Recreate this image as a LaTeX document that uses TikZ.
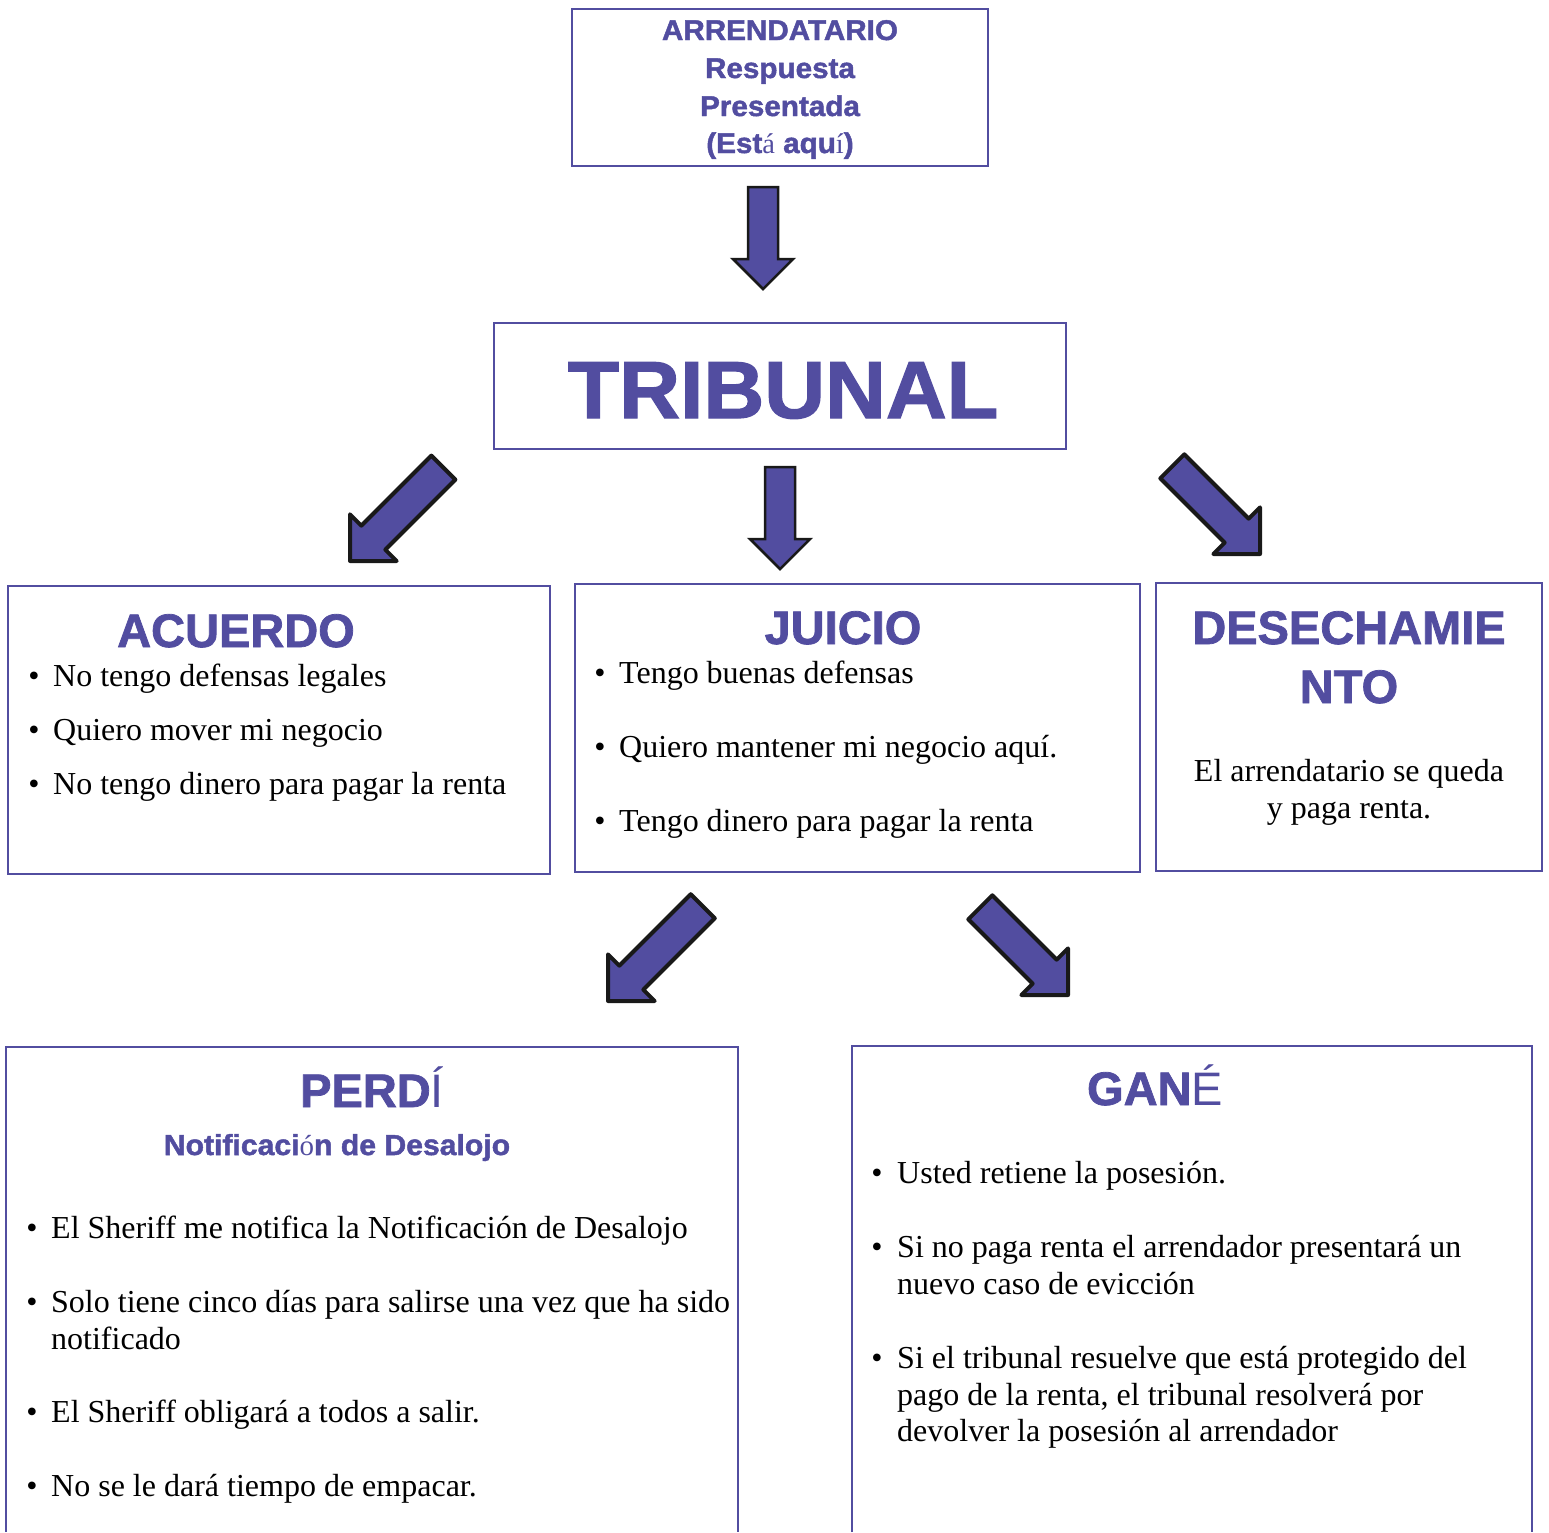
\documentclass[tikz,border=0pt]{standalone}
\usepackage{fontspec}
\setmainfont{Liberation Serif}
\newfontfamily\hsans{Liberation Sans}
\newfontfamily\hblack{Liberation Sans Bold}[FakeBold=1.6]
\newfontfamily\hblackw{Liberation Sans Bold}[FakeBold=1.6,FakeStretch=1.04]
\definecolor{pur}{RGB}{82,77,160}
\newcommand\blockarrow[7]{% style, tip x, tip y, angle, length, shaft hw, head hw
  \begin{scope}[shift={(#2,#3)},rotate=#4]
    \filldraw[#1] (0,0) -- (-#7,#7) -- (-#7,#6) -- (-#5,#6) -- (-#5,-#6) -- (-#7,-#6) -- (-#7,-#7) -- cycle;
  \end{scope}}
\tikzset{
  box/.style={draw=pur, line width=1.8pt, inner sep=0pt},
  arw/.style={fill=pur, draw=black!90, line width=4pt, line join=round},
  arwthin/.style={fill=pur, draw=black!90, line width=2.5pt, line join=miter},
  body/.style={inner sep=0pt, anchor=base west, font=\fontsize{32}{37}\selectfont},
  bul/.style={inner sep=0pt, anchor=base, font=\fontsize{32}{37}\selectfont},
  ctr/.style={inner sep=0pt, anchor=base, font=\fontsize{32}{37}\selectfont},
  head/.style={inner sep=0pt, anchor=base, text=pur, font=\hblack\fontsize{47}{50}\selectfont},
  toptxt/.style={inner sep=0pt, anchor=base, text=pur, font=\hblackw\fontsize{28.5}{30}\selectfont},
}
\newcommand\srf[1]{{\rmfamily #1}}
\newcommand\lsn[1]{{\hsans #1}}
\begin{document}
\begin{tikzpicture}[x=1pt,y=-1pt]
\useasboundingbox (0,0) rectangle (1549,1532);

% boxes
\node[box, minimum width=416pt, minimum height=157pt] (top) at (780,87.5) {};
\node[box, minimum width=572pt, minimum height=126pt] (trib) at (780,386) {};
\node[box, minimum width=542pt, minimum height=288pt] (acu) at (279,730) {};
\node[box, minimum width=565pt, minimum height=288pt] (jui) at (857.5,728) {};
\node[box, minimum width=386pt, minimum height=288pt] (des) at (1349,727) {};
\draw[box] (6,1532) |- (738,1047) -- (738,1532);
\draw[box] (852,1532) |- (1532,1046) -- (1532,1532);

% top box text
\node[toptxt] (t1) at (780,40) {ARRENDATARIO};
\node[toptxt] (t2) at (780,78) {Respuesta};
\node[toptxt] (t3) at (780,116) {Presentada};
\node[toptxt] (t4) at (780,153) {(Est\srf{á} aqu\srf{í})};

% tribunal
\node[inner sep=0pt, anchor=base, text=pur, font=\hblackw\fontsize{81}{84}\selectfont] (tt) at (783,418) {TRIBUNAL};

% arrows
\blockarrow{arwthin}{763}{289}{-90}{102}{15}{30}
\blockarrow{arwthin}{780}{569}{-90}{102}{15}{30}
\blockarrow{arw}{350}{561}{-135}{132}{17}{33}
\blockarrow{arw}{1260}{554}{-45}{124}{17}{33}
\blockarrow{arw}{608}{1001}{-135}{134}{17}{33}
\blockarrow{arw}{1068}{995}{-45}{124}{17}{33}

% ACUERDO
\node[head] (ah) at (236,647) {ACUERDO};
\node[bul] (ab1) at (34,686) {•};
\node[body] (a1) at (53,686) {No tengo defensas legales};
\node[bul] (ab2) at (34,740) {•};
\node[body] (a2) at (53,740) {Quiero mover mi negocio};
\node[bul] (ab3) at (34,794) {•};
\node[body] (a3) at (53,794) {No tengo dinero para pagar la renta};

% JUICIO
\node[head] (jh) at (843,644) {JUICIO};
\node[bul] (jb1) at (600,683) {•};
\node[body] (j1) at (619,683) {Tengo buenas defensas};
\node[bul] (jb2) at (600,757) {•};
\node[body] (j2) at (619,757) {Quiero mantener mi negocio aquí.};
\node[bul] (jb3) at (600,831) {•};
\node[body] (j3) at (619,831) {Tengo dinero para pagar la renta};

% DESECHAMIENTO
\node[head] (dh1) at (1349,644) {DESECHAMIE};
\node[head] (dh2) at (1349,703) {NTO};
\node[ctr] (d1) at (1349,781) {El arrendatario se queda};
\node[ctr] (d2) at (1349,818) {y paga renta.};

% PERDI
\node[head] (ph) at (372,1107) {PERD\lsn{Í}};
\node[inner sep=0pt, anchor=base, text=pur, font=\hblackw\fontsize{29}{30}\selectfont] (ps) at (337,1155) {Notificaci\srf{ó}n de Desalojo};
\node[bul] (pb1) at (32,1238) {•};
\node[body] (p1) at (51,1238) {El Sheriff me notifica la Notificación de Desalojo};
\node[bul] (pb2) at (32,1312) {•};
\node[body] (p2) at (51,1312) {Solo tiene cinco días para salirse una vez que ha sido};
\node[body] (p2b) at (51,1349) {notificado};
\node[bul] (pb3) at (32,1422) {•};
\node[body] (p3) at (51,1422) {El Sheriff obligará a todos a salir.};
\node[bul] (pb4) at (32,1496) {•};
\node[body] (p4) at (51,1496) {No se le dará tiempo de empacar.};

% GANE
\node[head] (gh) at (1155,1105) {GAN\lsn{É}};
\node[bul] (gb1) at (877,1183) {•};
\node[body] (g1) at (897,1183) {Usted retiene la posesión.};
\node[bul] (gb2) at (877,1257) {•};
\node[body] (g2) at (897,1257) {Si no paga renta el arrendador presentará un};
\node[body] (g2b) at (897,1294) {nuevo caso de evicción};
\node[bul] (gb3) at (877,1368) {•};
\node[body] (g3) at (897,1368) {Si el tribunal resuelve que está protegido del};
\node[body] (g3b) at (897,1405) {pago de la renta, el tribunal resolverá por};
\node[body] (g3c) at (897,1441) {devolver la posesión al arrendador};
\end{tikzpicture}
\end{document}
